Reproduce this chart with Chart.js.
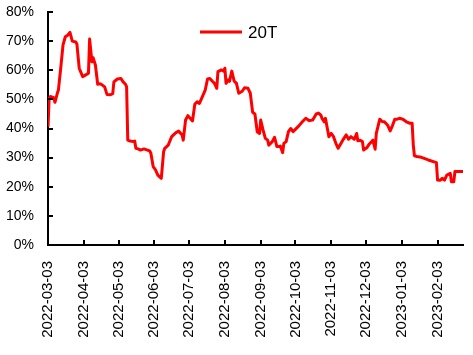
<!DOCTYPE html>
<html>
<head>
<meta charset="utf-8">
<script src="https://cdn.jsdelivr.net/npm/chart.js@4.4.1/dist/chart.umd.min.js"></script>
<style>
  html, body { margin: 0; padding: 0; background: #ffffff; }
  #wrap { width: 473px; height: 355px; position: relative; }
</style>
</head>
<body>
<div id="wrap"><canvas id="c" width="473" height="355"></canvas></div>
<script>
// ---- data ----
const seriesName = '20T';
const dates = [
  '2022-03-03','2022-03-04','2022-03-05','2022-03-08','2022-03-09','2022-03-11','2022-03-12','2022-03-14','2022-03-16','2022-03-18',
  '2022-03-20','2022-03-22','2022-03-24','2022-03-27','2022-03-28','2022-03-30','2022-04-02','2022-04-05','2022-04-07','2022-04-08',
  '2022-04-10','2022-04-11','2022-04-13','2022-04-15','2022-04-17','2022-04-19','2022-04-21','2022-04-23','2022-04-26','2022-04-28',
  '2022-04-29','2022-05-02','2022-05-05','2022-05-07','2022-05-09','2022-05-10','2022-05-11','2022-05-13','2022-05-16','2022-05-17',
  '2022-05-18','2022-05-20','2022-05-22','2022-05-25','2022-05-28','2022-05-30','2022-05-31','2022-06-02','2022-06-04','2022-06-06',
  '2022-06-09','2022-06-11','2022-06-12','2022-06-15','2022-06-16','2022-06-18','2022-06-20','2022-06-22','2022-06-24','2022-06-27',
  '2022-06-28','2022-06-30','2022-07-02','2022-07-04','2022-07-06','2022-07-08','2022-07-10','2022-07-12','2022-07-14','2022-07-17',
  '2022-07-19','2022-07-21','2022-07-23','2022-07-25','2022-07-27','2022-07-28','2022-07-31','2022-08-02','2022-08-03','2022-08-04',
  '2022-08-06','2022-08-07','2022-08-09','2022-08-11','2022-08-13','2022-08-15','2022-08-18','2022-08-20','2022-08-23','2022-08-25',
  '2022-08-27','2022-08-29','2022-08-31','2022-09-02','2022-09-03','2022-09-05','2022-09-07','2022-09-09','2022-09-10','2022-09-13',
  '2022-09-15','2022-09-17','2022-09-19','2022-09-20','2022-09-22','2022-09-23','2022-09-25','2022-09-27','2022-09-29','2022-10-01',
  '2022-10-03','2022-10-06','2022-10-09','2022-10-12','2022-10-15','2022-10-18','2022-10-21','2022-10-23','2022-10-25','2022-10-26',
  '2022-10-28','2022-10-29','2022-11-01','2022-11-03','2022-11-05','2022-11-07','2022-11-09','2022-11-11','2022-11-13','2022-11-16',
  '2022-11-18','2022-11-20','2022-11-23','2022-11-25','2022-11-26','2022-11-28','2022-11-30','2022-12-01','2022-12-04','2022-12-06',
  '2022-12-08','2022-12-09','2022-12-11','2022-12-12','2022-12-15','2022-12-17','2022-12-19','2022-12-22','2022-12-24','2022-12-26',
  '2022-12-28','2022-12-30','2023-01-01','2023-01-04','2023-01-07','2023-01-10','2023-01-12','2023-01-13','2023-01-14','2023-01-16',
  '2023-01-20','2023-01-26','2023-02-02','2023-02-03','2023-02-05','2023-02-07','2023-02-09','2023-02-11','2023-02-14','2023-02-15',
  '2023-02-17','2023-02-18','2023-02-21','2023-02-25'
];
const values = [
  40.6,50.4,51.0,50.6,49.0,52.0,53.2,60.7,68.7,71.5,
  72.0,73.0,70.0,69.7,69.0,60.7,57.8,58.5,59.0,70.7,
  62.9,64.3,61.8,55.2,55.4,54.9,54.3,51.7,51.6,52.0,
  56.0,57.0,57.2,56.0,55.2,54.3,36.0,35.7,35.5,35.7,
  33.2,33.0,32.6,33.0,32.6,32.3,31.5,26.9,25.8,24.0,
  22.9,32.0,33.2,34.3,35.3,37.2,38.0,38.7,39.1,37.8,
  36.0,42.9,44.4,43.5,42.6,48.3,49.2,48.6,50.4,53.2,
  57.0,57.2,56.3,55.5,53.8,59.5,60.1,59.7,60.7,55.5,
  56.7,56.2,59.7,56.3,55.5,52.1,52.8,54.0,53.8,52.1,
  45.6,45.0,38.9,38.3,42.9,39.5,36.6,36.0,34.3,35.5,
  37.0,33.8,33.8,34.0,31.7,34.9,35.5,38.9,40.0,38.9,
  39.7,40.9,42.3,43.5,42.7,42.9,45.0,45.3,44.6,43.5,
  42.3,43.5,37.2,38.3,37.2,34.9,33.2,34.6,36.0,37.8,
  36.3,37.2,36.3,38.3,35.8,36.0,35.5,32.6,33.5,34.7,
  35.5,36.0,32.9,38.3,43.2,42.4,42.3,41.0,39.2,41.0,
  43.2,43.2,43.5,43.2,42.3,41.8,41.8,34.3,30.6,30.4,
  30.1,29.2,28.3,22.3,22.2,22.9,22.3,24.0,24.6,21.7,
  21.7,25.2,25.2,25.2
];
const xTickLabels = [
  '2022-03-03','2022-04-03','2022-05-03','2022-06-03','2022-07-03','2022-08-03',
  '2022-09-03','2022-10-03','2022-11-03','2022-12-03','2023-01-03','2023-02-03'
];
const yMin = 0, yMax = 80, yStep = 10;

// ---- helpers ----
function toDay(s) {
  const p = s.split('-').map(Number);
  return Date.UTC(p[0], p[1] - 1, p[2]) / 86400000;
}
const points = dates.map((d, i) => ({ x: toDay(d), y: values[i] }));
const tickMap = {};
xTickLabels.forEach(s => { tickMap[toDay(s)] = s; });

const FONT = "'Liberation Sans', Arial, sans-serif";

// inner tick marks drawn from the scales' own ticks
const innerTicks = {
  id: 'innerTicks',
  afterDraw(chart) {
    const ctx = chart.ctx;
    const xs = chart.scales.x, ys = chart.scales.y;
    const a = chart.chartArea;
    ctx.save();
    ctx.strokeStyle = '#000';
    ctx.lineWidth = 2;
    ctx.beginPath();
    xs.ticks.forEach(t => {
      const px = Math.round(xs.getPixelForValue(t.value));
      ctx.moveTo(px, a.bottom);
      ctx.lineTo(px, a.bottom - 5);
    });
    ys.ticks.forEach(t => {
      const py = Math.round(ys.getPixelForValue(t.value));
      ctx.moveTo(a.left, py);
      ctx.lineTo(a.left + 5, py);
    });
    ctx.stroke();
    ctx.restore();
  }
};

// legend drawn inside the plot area
const insideLegend = {
  id: 'insideLegend',
  afterDraw(chart) {
    const ds = chart.data.datasets[0];
    const ctx = chart.ctx;
    ctx.save();
    ctx.strokeStyle = ds.borderColor;
    ctx.lineWidth = 3;
    ctx.beginPath();
    ctx.moveTo(200, 32);
    ctx.lineTo(242, 32);
    ctx.stroke();
    ctx.fillStyle = '#000';
    ctx.font = "17px " + FONT;
    ctx.textBaseline = 'middle';
    ctx.textAlign = 'left';
    ctx.fillText(ds.label, 248, 33);
    ctx.restore();
  }
};

new Chart(document.getElementById('c'), {
  type: 'line',
  data: {
    datasets: [{
      label: seriesName,
      data: points,
      borderColor: '#FF0000',
      backgroundColor: '#FF0000',
      borderWidth: 3,
      pointRadius: 0,
      tension: 0,
      borderJoinStyle: 'round'
    }]
  },
  options: {
    responsive: false,
    animation: false,
    devicePixelRatio: 1,
    layout: { padding: { top: 12, right: 10, left: 0, bottom: 0 } },
    plugins: { legend: { display: false }, tooltip: { enabled: false } },
    scales: {
      x: {
        type: 'linear',
        min: toDay(dates[0]),
        max: toDay(dates[dates.length - 1]),
        afterBuildTicks(scale) {
          scale.ticks = xTickLabels.map(s => ({ value: toDay(s) }));
        },
        afterFit(scale) { scale.height = 110; },
        grid: { display: false },
        border: { display: true, color: '#000', width: 2 },
        ticks: {
          autoSkip: false,
          maxRotation: 90,
          minRotation: 90,
          padding: 8,
          color: '#000',
          font: { family: FONT, size: 15 },
          callback: (v) => tickMap[v] || ''
        }
      },
      y: {
        min: yMin,
        max: yMax,
        afterFit(scale) { scale.width = 48; },
        grid: {
          display: true,
          drawOnChartArea: false,
          drawTicks: true,
          tickLength: 13,
          tickColor: 'rgba(0,0,0,0)'
        },
        border: { display: true, color: '#000', width: 2 },
        ticks: {
          stepSize: yStep,
          padding: 1,
          color: '#000',
          font: { family: FONT, size: 14 },
          callback: (v) => v + '%'
        }
      }
    }
  },
  plugins: [innerTicks, insideLegend]
});
</script>
</body>
</html>
